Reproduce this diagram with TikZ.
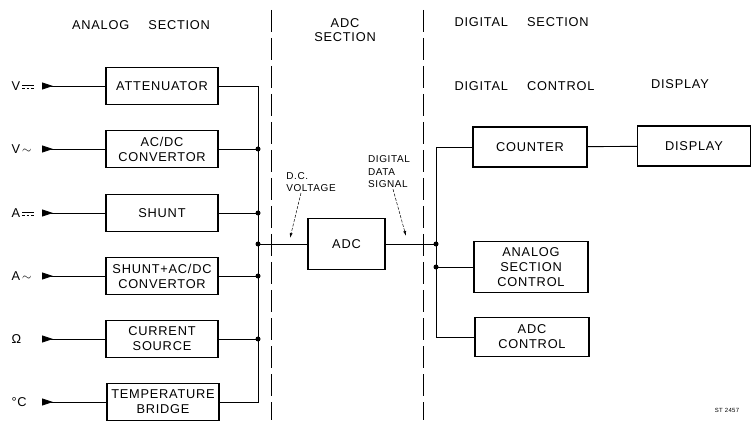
\documentclass[tikz,border=0pt]{standalone}
\usepackage{fontspec}
\setmainfont[LetterSpace=6]{Liberation Sans}
\usepackage{tikz}
\usetikzlibrary{arrows.meta,positioning}

\newcommand{\dcsign}{\,\raisebox{0.25ex}{\vbox{\hrule width 0.9em height 0.08em\vskip 0.15em
  \hbox{\rule{0.22em}{0.08em}\hskip 0.12em\rule{0.22em}{0.08em}\hskip 0.12em\rule{0.22em}{0.08em}}}}}
\newcommand{\acsign}{\,$\sim$}

\begin{document}
\begin{tikzpicture}[x=1pt,y=-1pt,
    blk/.style={draw,line width=1.3pt,align=center,minimum width=112pt,minimum height=37pt,
                inner sep=2pt,font=\fontsize{12.8}{15}\selectfont},
    hdr/.style={font=\fontsize{12.8}{14}\selectfont,align=center},
    note/.style={font=\fontsize{10}{12.5}\selectfont,align=left,inner sep=1pt},
    wire/.style={line width=0.9pt},
    term/.style={wire,{Triangle[reversed,length=11pt,width=7pt]}-},
    divider/.style={line width=0.9pt,dash pattern=on 22pt off 6pt},
    pointer/.style={line width=0.5pt,dash pattern=on 3pt off 1.5pt,-{Latex[length=5pt,width=3pt]}}
]
    \useasboundingbox (0,0) rectangle (752,430);

    % section headings and dividers
    \node[hdr] (hana) at (141,25) {ANALOG\hspace{1.5em}SECTION};
    \node[hdr] (hadc) at (345,30) {ADC\\SECTION};
    \node[hdr,anchor=west] (hdig) at (451,22) {DIGITAL\hspace{1.5em}SECTION};
    \node[hdr,anchor=west] (hctl) at (451,86) {DIGITAL\hspace{1.5em}CONTROL};
    \node[hdr] (hdsp) at (680,84) {DISPLAY};
    \draw[divider] (271,10) -- (271,420);
    \draw[divider] (423,10) -- (423,420);

    % analog section
    \node[blk] (att) at (162,86) {ATTENUATOR};
    \node[blk] (acdc) at (162,149) {AC/DC\\CONVERTOR};
    \node[blk] (shunt) at (162,213) {SHUNT};
    \node[blk] (shac) at (162,276) {SHUNT+AC/DC\\CONVERTOR};
    \node[blk] (cursrc) at (162,339) {CURRENT\\SOURCE};
    \node[blk] (temp) at (163,402) {TEMPERATURE\\BRIDGE};

    \foreach \nm/\sym [count=\i] in {att/{V\dcsign}, acdc/{V\acsign}, shunt/{A\dcsign},
                                     shac/{A\acsign}, cursrc/{Ω}, temp/{°C}} {
        \node[hdr,anchor=west] (in\i) at (8,0 |- \nm) {\sym};
        \coordinate (t\i) at (42,0 |- \nm);
        \draw[term] (t\i) -- (\nm);
    }

    \coordinate (abus) at (258,244);
    \draw[wire] (att) -| (abus);
    \draw[wire] (temp) -| (abus);
    \foreach \nm in {acdc,shunt,shac,cursrc} {
        \draw[wire] (\nm) -- (\nm -| abus);
        \fill (\nm -| abus) circle (2.5pt);
    }

    % adc section
    \node[blk,minimum width=77pt,minimum height=51pt] (adc) at (346.5,244) {ADC};
    \draw[wire] (abus) -- (adc);
    \fill (abus) circle (2.5pt);

    \node[note] (dcv) at (311,182) {D.C.\\VOLTAGE};
    \node[note] (dds) at (389,172) {DIGITAL\\DATA\\SIGNAL};
    \coordinate (dcvend) at (290,238);
    \coordinate (ddsend) at (406,236);
    \draw[pointer] ([xshift=-10pt]dcv.south) -- (dcvend);
    \draw[pointer] ([xshift=4pt]dds.south) -- (ddsend);

    % digital section
    \node[blk,minimum width=114pt,minimum height=40pt] (cnt) at (530,147) {COUNTER};
    \node[blk,minimum width=113pt,minimum height=40pt] (dsp) at (694,146) {DISPLAY};
    \node[blk,minimum width=114pt,minimum height=51pt] (asc) at (531,267) {ANALOG\\SECTION\\CONTROL};
    \node[blk,minimum width=114pt,minimum height=39pt] (adcc) at (532,337) {ADC\\CONTROL};

    \coordinate (dbus) at (436,244);
    \draw[wire] (adc) -- (dbus);
    \fill (dbus) circle (2.5pt);
    \draw[wire] (cnt) -| (dbus);
    \draw[wire] (adcc) -| (dbus);
    \draw[wire] (asc) -- (asc -| dbus);
    \fill (asc -| dbus) circle (2.5pt);
    \draw[wire] (cnt) -- (dsp);

    \node[font=\fontsize{6}{7}\selectfont] (stno) at (727,410) {ST 2457};
\end{tikzpicture}
\end{document}
